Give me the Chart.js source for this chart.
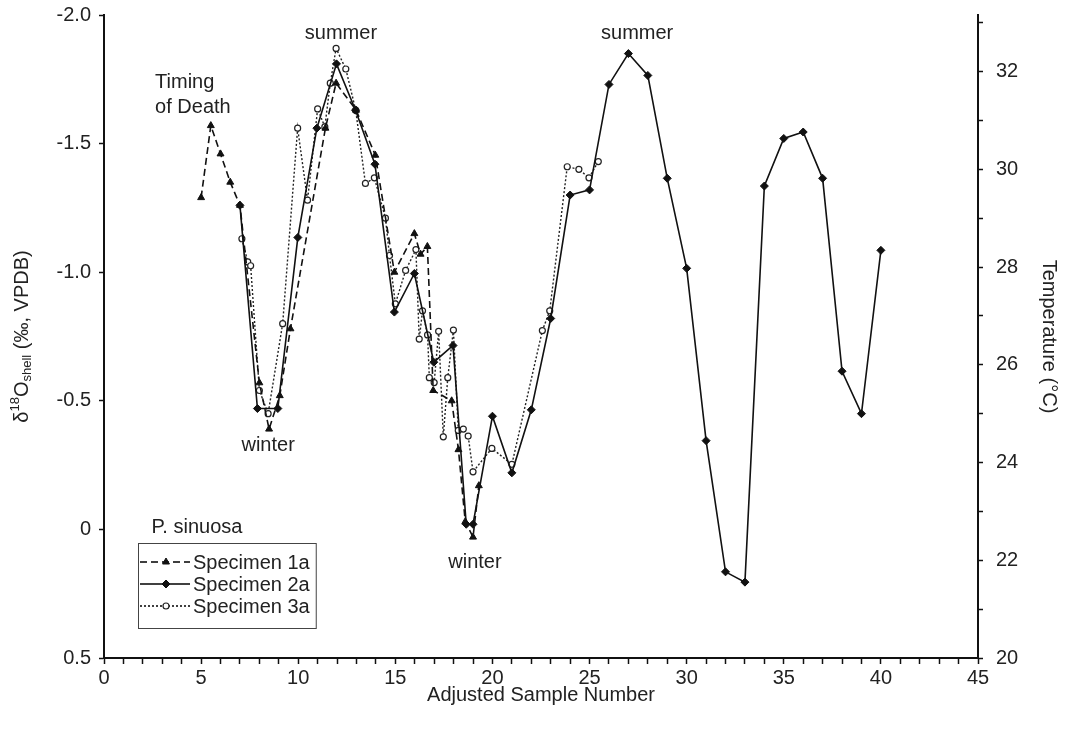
<!DOCTYPE html>
<html>
<head>
<meta charset="utf-8">
<script src="https://cdn.jsdelivr.net/npm/chart.js@4/dist/chart.umd.min.js"></script>
<style>
    body { margin: 0; background: #fff; }
</style>
</head>
<body>
<canvas id="chart" width="1065" height="740"></canvas>
<script>
// Specimen 1a (dashed, triangles)
var spec1aX = [5, 5.5, 6, 6.5, 7, 8, 8.5, 9.05, 9.6, 11.4, 11.95, 12.98, 13.97, 14.95, 15.98, 16.3, 16.65, 16.95, 17.9, 18.25, 18.6, 19, 19.3];
var spec1aY = [-1.29, -1.57, -1.46, -1.35, -1.26, -0.57, -0.39, -0.52, -0.78, -1.56, -1.735, -1.63, -1.455, -1.0, -1.15, -1.07, -1.10, -0.54, -0.50, -0.31, -0.03, 0.03, -0.17];

// Specimen 2a (solid, diamonds)
var spec2aX = [7, 7.9, 8.95, 9.98, 10.96, 11.97, 12.95, 13.95, 14.95, 15.98, 16.98, 17.97, 18.65, 19, 20, 21, 22, 23, 24, 25, 26, 27, 28, 29, 30, 31, 32, 33, 34, 35, 36, 37, 38, 39, 40];
var spec2aY = [-1.26, -0.47, -0.47, -1.135, -1.56, -1.81, -1.63, -1.42, -0.845, -0.995, -0.65, -0.715, -0.02, -0.02, -0.44, -0.22, -0.465, -0.82, -1.30, -1.32, -1.73, -1.85, -1.765, -1.365, -1.015, -0.345, 0.165, 0.205, -1.335, -1.52, -1.545, -1.365, -0.615, -0.45, -1.085];

// Specimen 3a (dotted, open circles)
var spec3aX = [7.1, 7.4, 7.55, 8, 8.45, 9.2, 9.97, 10.48, 11, 11.37, 11.65, 11.95, 12.45, 12.96, 13.46, 13.92, 14.49, 14.7, 15, 15.53, 16.06, 16.23, 16.4, 16.66, 16.75, 17, 17.23, 17.47, 17.7, 17.99, 18.24, 18.5, 18.75, 19, 19.97, 21, 22.57, 22.95, 23.85, 24.45, 24.97, 25.45];
var spec3aY = [-1.13, -1.04, -1.025, -0.54, -0.45, -0.80, -1.56, -1.28, -1.635, -1.565, -1.735, -1.87, -1.79, -1.63, -1.345, -1.367, -1.21, -1.065, -0.877, -1.007, -1.088, -0.74, -0.85, -0.756, -0.59, -0.571, -0.77, -0.36, -0.59, -0.775, -0.385, -0.39, -0.363, -0.224, -0.315, -0.253, -0.773, -0.85, -1.41, -1.40, -1.367, -1.43];

var seriesNames = ['Specimen 1a', 'Specimen 2a', 'Specimen 3a'];

// annotations on the plot (data coordinates)
var noteText = ['Timing', 'of Death', 'summer', 'winter', 'winter', 'summer'];
var noteX = [2.63, 2.63, 12.2, 8.45, 19.1, 27.45];
var noteY = [-1.739, -1.642, -1.93, -0.325, 0.127, -1.93];
var noteAlign = ['left', 'left', 'center', 'center', 'center', 'center'];

var FONT = "'Liberation Sans', Arial, sans-serif";
Chart.defaults.font.family = FONT;
Chart.defaults.font.size = 20;
Chart.defaults.color = '#222';

function pts(xs, ys) {
    return xs.map(function(x, i) { return { x: x, y: ys[i] }; });
}

var notesPlugin = {
    id: 'notes',
    afterDatasetsDraw: function(chart) {
        var ctx = chart.ctx;
        var sx = chart.scales.x, sy = chart.scales.y;
        ctx.save();
        ctx.font = '20px ' + FONT;
        ctx.fillStyle = '#222';
        ctx.textBaseline = 'middle';
        for (var i = 0; i < noteText.length; i++) {
            ctx.textAlign = noteAlign[i];
            ctx.fillText(noteText[i], sx.getPixelForValue(noteX[i]), sy.getPixelForValue(noteY[i]));
        }
        ctx.restore();
    }
};

// legend box in the lower left of the plot
var boxLegend = {
    id: 'boxLegend',
    afterDraw: function(chart) {
        var ctx = chart.ctx, area = chart.chartArea;
        var left = area.left + 34, top = area.bottom - 115;
        ctx.save();
        ctx.font = '20px ' + FONT;
        ctx.textBaseline = 'middle';
        ctx.fillStyle = '#222';
        var textW = 0;
        seriesNames.forEach(function(n) { textW = Math.max(textW, ctx.measureText(n).width); });
        var right = left + 55 + textW + 6;
        ctx.strokeStyle = '#444';
        ctx.lineWidth = 1;
        ctx.strokeRect(left + 0.5, top + 0.5, right - left, 85);
        ctx.textAlign = 'center';
        ctx.fillText('P. sinuosa', left + 59, top - 16);
        ctx.textAlign = 'left';
        chart.data.datasets.forEach(function(ds, i) {
            var y = top + 19 + i * 22;
            ctx.save();
            ctx.strokeStyle = '#000';
            ctx.lineWidth = ds.borderWidth;
            ctx.setLineDash(ds.borderDash || []);
            ctx.beginPath();
            ctx.moveTo(left + 2, y);
            ctx.lineTo(left + 52, y);
            ctx.stroke();
            ctx.setLineDash([]);
            ctx.fillStyle = ds.pointBackgroundColor;
            ctx.strokeStyle = ds.pointBorderColor;
            ctx.lineWidth = ds.pointBorderWidth;
            Chart.helpers.drawPoint(ctx, { pointStyle: ds.pointStyle, radius: ds.pointRadius, rotation: 0, borderWidth: ds.pointBorderWidth }, left + 28, y);
            ctx.restore();
            ctx.fillText(ds.label, left + 55, y + 1);
        });
        ctx.restore();
    }
};

// left axis title with superscript / subscript
var leftTitle = {
    id: 'leftTitle',
    afterDraw: function(chart) {
        var ctx = chart.ctx, area = chart.chartArea;
        var parts = [
            { t: 'δ', s: 20, dy: 0 },
            { t: '18', s: 13, dy: -7 },
            { t: 'O', s: 20, dy: 0 },
            { t: 'shell', s: 13, dy: 5 },
            { t: ' (‰, VPDB)', s: 20, dy: 0 }
        ];
        ctx.save();
        ctx.fillStyle = '#222';
        ctx.textBaseline = 'middle';
        ctx.textAlign = 'left';
        var total = 0;
        parts.forEach(function(p) { ctx.font = p.s + 'px ' + FONT; p.w = ctx.measureText(p.t).width; total += p.w; });
        ctx.translate(22, (area.top + area.bottom) / 2);
        ctx.rotate(-Math.PI / 2);
        var x = -total / 2;
        parts.forEach(function(p) {
            ctx.font = p.s + 'px ' + FONT;
            ctx.fillText(p.t, x, p.dy);
            x += p.w;
        });
        ctx.restore();
    }
};

function fitWidth(w) {
    return function(scale) {
        scale.width = w;
        scale.paddingTop = 0;
        scale.paddingBottom = 0;
    };
}

var ctx = document.getElementById('chart');

var chart = new Chart(ctx, {
    type: 'line',
    data: {
        datasets: [{
            label: seriesNames[0],
            data: pts(spec1aX, spec1aY),
            borderColor: '#111',
            borderWidth: 1.6,
            borderDash: [7, 4],
            pointStyle: 'triangle',
            pointRadius: 4,
            pointBackgroundColor: '#111',
            pointBorderColor: '#111',
            pointBorderWidth: 1
        }, {
            label: seriesNames[1],
            data: pts(spec2aX, spec2aY),
            borderColor: '#111',
            borderWidth: 1.6,
            pointStyle: 'rectRot',
            pointRadius: 4,
            pointBackgroundColor: '#111',
            pointBorderColor: '#111',
            pointBorderWidth: 1
        }, {
            label: seriesNames[2],
            data: pts(spec3aX, spec3aY),
            borderColor: '#222',
            borderWidth: 1.4,
            borderDash: [2, 2],
            pointStyle: 'circle',
            pointRadius: 3,
            pointBackgroundColor: '#fff',
            pointBorderColor: '#222',
            pointBorderWidth: 1.2
        }]
    },
    options: {
        responsive: false,
        animation: false,
        layout: { padding: { top: 15, bottom: 29, left: 0, right: 0 } },
        elements: { line: { tension: 0 } },
        plugins: {
            legend: { display: false },
            tooltip: { enabled: false }
        },
        scales: {
            x: {
                type: 'linear',
                position: 'bottom',
                min: 0,
                max: 45,
                ticks: {
                    stepSize: 1,
                    autoSkip: false,
                    maxRotation: 0,
                    padding: 2,
                    callback: function(value) { return value % 5 === 0 ? String(value) : ''; }
                },
                grid: { drawOnChartArea: false, tickLength: 6, tickColor: '#111', tickWidth: 1.5 },
                border: { color: '#111', width: 2 },
                title: { display: true, text: 'Adjusted Sample Number', padding: { top: 4, bottom: 4 } },
                afterFit: function(scale) {
                    scale.height = 53;
                    scale.paddingLeft = 0;
                    scale.paddingRight = 0;
                }
            },
            y: {
                type: 'linear',
                position: 'left',
                min: -2,
                max: 0.5,
                reverse: true,
                ticks: {
                    stepSize: 0.5,
                    padding: 8,
                    callback: function(value) { return value === 0 ? '0' : value.toFixed(1); }
                },
                grid: { drawOnChartArea: false, tickLength: 5, tickColor: '#111', tickWidth: 1.5 },
                border: { color: '#111', width: 2 },
                afterFit: fitWidth(104)
            },
            temp: {
                type: 'linear',
                position: 'right',
                min: 20,
                max: 33.16,
                ticks: {
                    stepSize: 1,
                    includeBounds: false,
                    padding: 13,
                    callback: function(value) { return value % 2 === 0 ? String(value) : ''; }
                },
                grid: { drawOnChartArea: false, tickLength: 5, tickColor: '#111', tickWidth: 1.5 },
                border: { color: '#111', width: 2 },
                title: { display: true, text: 'Temperature (°C)', padding: { top: 4, bottom: 4 } },
                afterFit: fitWidth(87)
            }
        }
    },
    plugins: [notesPlugin, boxLegend, leftTitle]
});
</script>
</body>
</html>
